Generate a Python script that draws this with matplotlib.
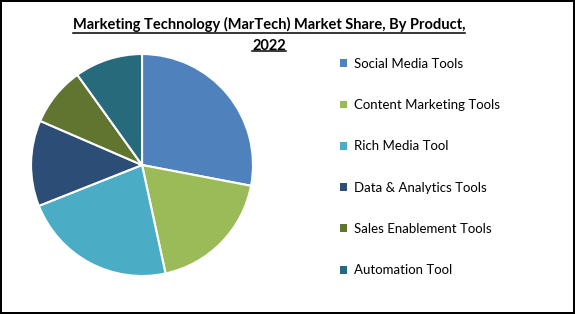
import matplotlib
matplotlib.use('Agg')
import matplotlib.pyplot as plt
from matplotlib.lines import Line2D

plt.rcParams['font.family'] = ['Lato', 'DejaVu Sans']

products = ['Social Media Tools', 'Content Marketing Tools', 'Rich Media Tool',
            'Data & Analytics Tools', 'Sales Enablement Tools', 'Automation Tool']
shares = [28.0, 18.6, 22.4, 12.5, 8.6, 9.9]
colors = ['#4F81BD', '#9BBB59', '#4BACC6', '#2C4D75', '#5F7530', '#276A7C']
title = 'Marketing Technology (MarTech) Market Share, By Product,\n2022'

fig = plt.figure(figsize=(5.75, 3.14), dpi=100)
fig.patch.set_edgecolor('black')
fig.patch.set_linewidth(1.5)

ax = fig.add_axes([0.054, 0.121, 0.386, 0.707])
wedges, _ = ax.pie(shares, colors=colors, startangle=90, counterclock=False,
                   wedgeprops=dict(edgecolor='white', linewidth=1.5))
ax.set_xlim(-1.0, 1.0)
ax.set_ylim(-1.0, 1.0)

# title, underlined by hand
tsize = 10.5
t = fig.text(269 / 575, 1 - 17 / 314, title, ha='center', va='top',
             fontsize=tsize, fontweight='bold', linespacing=1.62)
fig.canvas.draw()
r = fig.canvas.get_renderer()
lines = title.split('\n')
bb = t.get_window_extent(r)
lh = bb.height / len(lines)
for i, s in enumerate(lines):
    tmp = fig.text(0, 0, s, fontsize=tsize, fontweight='bold')
    w = tmp.get_window_extent(r).width
    tmp.remove()
    cx = (bb.x0 + bb.x1) / 2
    y = bb.y1 - (i + 1) * lh + lh * 0.1
    fig.add_artist(Line2D([(cx - w / 2) / 575, (cx + w / 2) / 575],
                          [y / 314, y / 314], color='black', lw=1.1))

leg = fig.legend(wedges, products, loc='upper left',
                 bbox_to_anchor=(328 / 575, 1 - 46 / 314), frameon=False,
                 fontsize=9.5, handlelength=0.55, handleheight=0.55,
                 handletextpad=0.5, labelspacing=2.22)
for h in leg.legend_handles:
    h.set_linewidth(0)

fig.savefig('out.png', dpi=100, edgecolor=fig.get_edgecolor())
